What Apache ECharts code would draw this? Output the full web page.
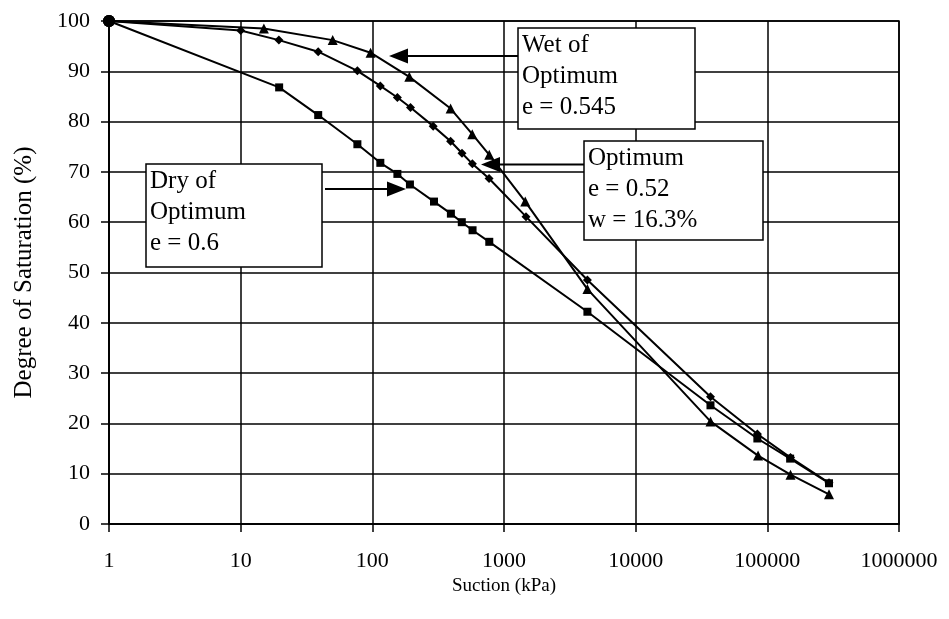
<!DOCTYPE html>
<html>
<head>
<meta charset="utf-8">
<script src="https://cdn.jsdelivr.net/npm/echarts@6/dist/echarts.min.js"></script>
<style>
  html, body { margin: 0; padding: 0; background: #fff; }
  #chart { width: 949px; height: 619px; }
</style>
</head>
<body>
<div id="chart"></div>
<script>
// ---- data ----
const wetSuction = [1, 15, 50, 97, 191, 393, 574, 773, 1450, 4300, 37000, 85000, 150000, 294000];
const wetSaturation = [100, 98.5, 96.2, 93.7, 88.9, 82.6, 77.5, 73.4, 64.1, 46.7, 20.4, 13.6, 9.8, 5.9];

const optSuction = [1, 10, 19.5, 38.8, 77, 115, 155, 195, 290, 393, 480, 575, 770, 1470, 4300, 37000, 84000, 150000, 294000];
const optSaturation = [100, 98.1, 96.2, 93.9, 90.1, 87.1, 84.8, 82.8, 79.1, 76.1, 73.7, 71.6, 68.7, 61.1, 48.5, 25.3, 17.9, 13.2, 8.2];

const drySuction = [1, 19.6, 38.8, 77, 115, 155, 193, 294, 395, 478, 577, 773, 4300, 37000, 84000, 149000, 294000];
const drySaturation = [100, 86.8, 81.3, 75.5, 71.8, 69.6, 67.5, 64.1, 61.7, 60.0, 58.4, 56.1, 42.2, 23.6, 17.0, 13.0, 8.1];

const xTickLabels = ['1', '10', '100', '1000', '10000', '100000', '1000000'];
const yTickLabels = ['0', '10', '20', '30', '40', '50', '60', '70', '80', '90', '100'];

const wetLabel = ['Wet of', 'Optimum', 'e = 0.545'];
const optLabel = ['Optimum', 'e = 0.52', 'w = 16.3%'];
const dryLabel = ['Dry of', 'Optimum', 'e = 0.6'];

// ---- build ----
const zip = (xs, ys) => xs.map((x, i) => [x, ys[i]]);
const FONT = '"Liberation Serif", "Times New Roman", serif';

function lineSeries(name, xs, ys, symbol, size) {
  return {
    name, type: 'line', data: zip(xs, ys),
    symbol: (v, p) => (p.dataIndex === 0 ? 'circle' : symbol),
    symbolSize: (v, p) => (p.dataIndex === 0 ? 12 : size),
    showAllSymbol: true,
    lineStyle: { color: '#000', width: 2 },
    itemStyle: { color: '#000' },
    animation: false, z: 5
  };
}

function box(x, y, w, h, lines) {
  return [
    { type: 'rect', shape: { x, y, width: w, height: h },
      style: { fill: '#fff', stroke: '#000', lineWidth: 1.5 }, z: 20 },
    { type: 'text', x: x + 4, y: y + 2, z: 21,
      style: { text: lines.join('\n'), font: '25px ' + FONT, fill: '#000',
               lineHeight: 31, verticalAlign: 'top', align: 'left' } }
  ];
}

function arrow(x1, x2, y, dir) {
  // x2 = tip; head length 19, half width 7.5
  const base = x2 - dir * 19;
  return [
    { type: 'line', shape: { x1, y1: y, x2: base, y2: y },
      style: { stroke: '#000', lineWidth: 2 }, z: 22 },
    { type: 'polygon', shape: { points: [[x2, y], [base, y - 7.5], [base, y + 7.5]] },
      style: { fill: '#000' }, z: 22 }
  ];
}

const chart = echarts.init(document.getElementById('chart'), null, { renderer: 'canvas' });
chart.setOption({
  animation: false,
  backgroundColor: '#fff',
  grid: { left: 109, right: 50, top: 21, bottom: 95, show: true, borderColor: '#000', borderWidth: 1.5 },
  xAxis: {
    type: 'log', logBase: 10, min: 1, max: 1000000,
    name: 'Suction (kPa)', nameLocation: 'middle', nameGap: 41,
    nameTextStyle: { fontFamily: FONT, fontSize: 19, color: '#000' },
    axisLine: { lineStyle: { color: '#000', width: 1.5 } },
    axisTick: { show: true, length: 8, lineStyle: { color: '#000', width: 1.5 } },
    axisLabel: { margin: 26, fontFamily: FONT, fontSize: 22, color: '#000',
      formatter: v => xTickLabels[Math.round(Math.log10(v))] },
    splitLine: { show: true, lineStyle: { color: '#000', width: 1.5 } },
    minorTick: { show: false }
  },
  yAxis: {
    type: 'value', min: 0, max: 100, interval: 10,
    name: 'Degree of Saturation (%)', nameLocation: 'middle', nameGap: 72, nameRotate: 90,
    nameTextStyle: { fontFamily: FONT, fontSize: 25, color: '#000' },
    axisLine: { show: true, lineStyle: { color: '#000', width: 1.5 } },
    axisTick: { show: true, length: 8, lineStyle: { color: '#000', width: 1.5 } },
    axisLabel: { margin: 19, fontFamily: FONT, fontSize: 22, color: '#000',
      formatter: v => yTickLabels[Math.round(v / 10)] },
    splitLine: { show: true, lineStyle: { color: '#000', width: 1.5 } }
  },
  series: [
    lineSeries('Wet of Optimum', wetSuction, wetSaturation, 'triangle', 10),
    lineSeries('Optimum', optSuction, optSaturation, 'diamond', 9),
    lineSeries('Dry of Optimum', drySuction, drySaturation, 'rect', 8)
  ],
  graphic: [
    ...box(518, 28, 177, 101, wetLabel),
    ...box(584, 141, 179, 99, optLabel),
    ...box(146, 164, 176, 103, dryLabel),
    ...arrow(518, 389, 56, -1),
    ...arrow(584, 481, 164.5, -1),
    ...arrow(325, 406, 189, 1)
  ]
});
</script>
</body>
</html>
